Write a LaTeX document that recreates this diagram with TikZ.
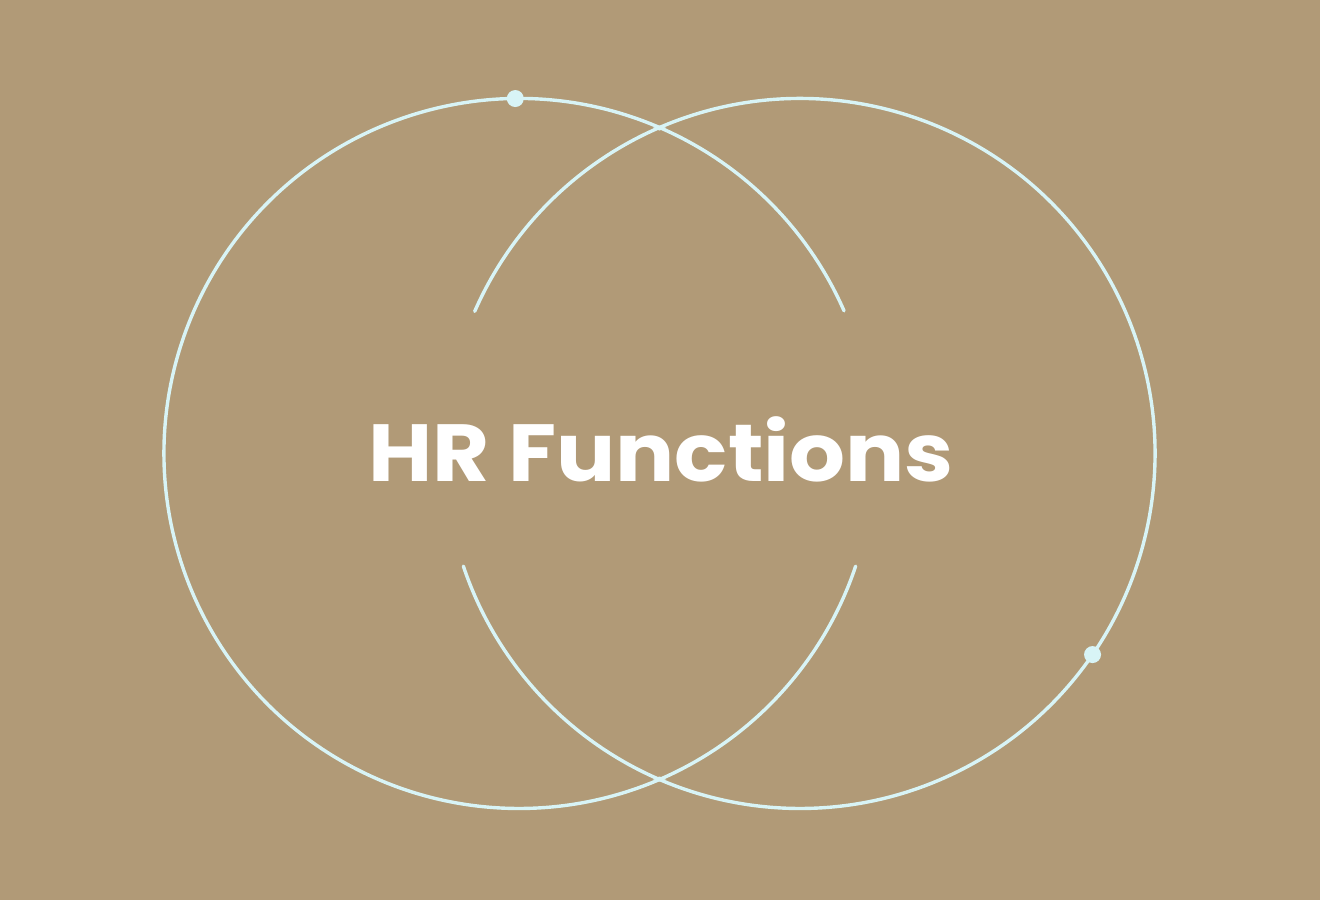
\documentclass[tikz,border=0pt]{standalone}
\usepackage{fontspec}
\setmainfont{Poppins}
\usetikzlibrary{calc}
\definecolor{bg}{HTML}{B19A77}
\definecolor{ring}{HTML}{D8F4F6}
\begin{document}
\begin{tikzpicture}[x=1pt,y=-1pt,
  ringline/.style={draw=ring,line width=3.4pt,line cap=round},
  ringdot/.style={circle,fill=ring,inner sep=0pt,minimum size=17pt},
  title/.style={text=white,font=\bfseries\fontsize{81}{81}\selectfont,xscale=1.085,anchor=base,inner sep=0pt}]
\fill[bg] (0,0) rectangle (1320,900);
\useasboundingbox (0,0) rectangle (1320,900);
\coordinate (L) at (519,453.5);
\coordinate (R) at (800,453.5);
% left circle: outer arc and inner arcs (y axis flipped -> use negative angles)
\draw[ringline] (L) ++(-66.7:355) arc[start angle=-66.7,end angle=-293.3,radius=355];
\draw[ringline] (L) ++(-66.7:355) arc[start angle=-66.7,end angle=-23.7,radius=355];
\draw[ringline] (L) ++(18.5:355) arc[start angle=18.5,end angle=66.7,radius=355];
% right circle
\draw[ringline] (R) ++(-113.3:355) arc[start angle=-113.3,end angle=113.3,radius=355];
\draw[ringline] (R) ++(-113.3:355) arc[start angle=-113.3,end angle=-156.4,radius=355];
\draw[ringline] (R) ++(161.5:355) arc[start angle=161.5,end angle=113.3,radius=355];
% small fillets where the rings cross
\coordinate (xt) at (659.5,128);
\coordinate (xb) at (659.5,779);
\fill[ring] ($(xt)+(-7,0)$) -- ($(xt)+(0,-2.5)$) -- ($(xt)+(7,0)$) -- ($(xt)+(0,2.5)$) -- cycle;
\fill[ring] ($(xb)+(-7,0)$) -- ($(xb)+(0,-2.5)$) -- ($(xb)+(7,0)$) -- ($(xb)+(0,2.5)$) -- cycle;
% dots
\node[ringdot] (d1) at ($(L)+(-90.6:355)$) {};
\node[ringdot] (d2) at ($(R)+(34.5:355)$) {};
\node[title] (t) at (661,481) {HR Functions};
\end{tikzpicture}
\end{document}
